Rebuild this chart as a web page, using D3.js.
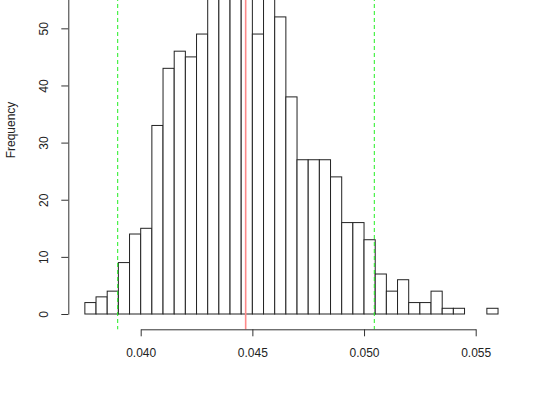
<!DOCTYPE html>
<html>
<head>
<meta charset="utf-8">
<script src="https://cdn.jsdelivr.net/npm/d3@7"></script>
<style>
  body { margin: 0; background: white; }
  svg text { font-family: "Liberation Sans", Arial, sans-serif; fill: #222; }
</style>
</head>
<body>
<svg id="chart" width="550" height="414"></svg>
<script>
// histogram bins (left edges), width 0.0005
var binStarts = d3.range(37).map(function(i) { return +(0.0375 + i * 0.0005).toFixed(4); });
var counts = [2, 3, 4, 9, 14, 15, 33, 43, 46, 45, 49, 58, 62, 60, 64, 49, 57, 52, 38,
              27, 27, 27, 24, 16, 16, 13, 7, 4, 6, 2, 2, 4, 1, 1, 0, 0, 1];
var binWidth = 0.0005;
var xTicks = [0.040, 0.045, 0.050, 0.055];
var yTicks = [0, 10, 20, 30, 40, 50];
var meanLine = 0.0447;
var ciLines = [0.03897, 0.05046];

var svg = d3.select("#chart");

var x = d3.scaleLinear().domain([0.040, 0.055]).range([140.7, 475.7]);
// top of the plot is cropped, axis runs on past 50
var y = d3.scaleLinear().domain([0, 60]).range([314, -28.8]);

var bins = binStarts.map(function(s, i) { return {x0: s, x1: s + binWidth, n: counts[i]}; });

// bars
svg.append("g").selectAll("rect")
   .data(bins)
   .enter()
   .append("rect")
   .attr("x", function(d) { return x(d.x0); })
   .attr("width", function(d) { return x(d.x1) - x(d.x0); })
   .attr("y", function(d) { return y(d.n); })
   .attr("height", function(d) { return y(0) - y(d.n); })
   .attr("fill", "white")
   .attr("stroke", "#222")
   .attr("stroke-width", 1);

// vertical reference lines
var plotBottom = 329.3;
svg.append("line")
   .attr("x1", x(meanLine)).attr("x2", x(meanLine))
   .attr("y1", -10).attr("y2", plotBottom)
   .attr("stroke", "#ff8a8a")
   .attr("stroke-width", 1.6);

svg.selectAll(".ci")
   .data(ciLines)
   .enter()
   .append("line")
   .attr("class", "ci")
   .attr("x1", function(d) { return x(d); })
   .attr("x2", function(d) { return x(d); })
   .attr("y1", -10).attr("y2", plotBottom)
   .attr("stroke", "#22ee22")
   .attr("stroke-width", 1)
   .attr("stroke-dasharray", "4,3");

// x axis
var xAxis = d3.axisBottom(x)
   .tickValues(xTicks)
   .tickSize(7)
   .tickPadding(12)
   .tickSizeOuter(0)
   .tickFormat(d3.format(".3f"));

var gx = svg.append("g")
   .attr("transform", "translate(0," + plotBottom + ")")
   .call(xAxis);
gx.select(".domain").attr("stroke", "#333");
gx.selectAll(".tick line").attr("stroke", "#333");
gx.selectAll(".tick text").attr("font-size", 12).attr("fill", "#222");

// y axis, labels rotated like R
var yAxis = d3.axisLeft(y)
   .tickValues(yTicks)
   .tickSize(7)
   .tickSizeOuter(0);

var gy = svg.append("g")
   .attr("transform", "translate(68.3,0)")
   .call(yAxis);
gy.select(".domain").attr("stroke", "#333");
gy.selectAll(".tick line").attr("stroke", "#333");
gy.selectAll(".tick text")
  .attr("font-size", 12)
  .attr("fill", "#222")
  .attr("x", null)
  .attr("text-anchor", "middle")
  .attr("transform", "translate(-25,0) rotate(-90)")
  .attr("dy", "0.35em");

svg.append("text")
   .attr("transform", "translate(11,130) rotate(-90)")
   .attr("text-anchor", "middle")
   .attr("dy", "0.35em")
   .attr("font-size", 12)
   .text("Frequency");
</script>
</body>
</html>
